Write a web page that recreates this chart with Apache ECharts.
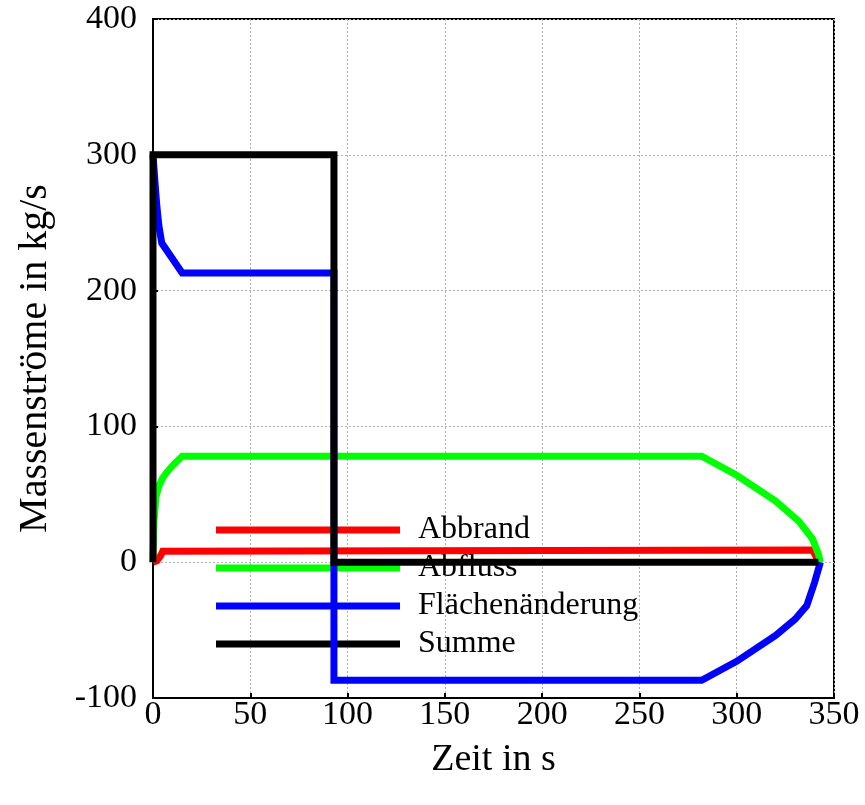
<!DOCTYPE html>
<html>
<head>
<meta charset="utf-8">
<script src="https://cdn.jsdelivr.net/npm/echarts@6/dist/echarts.min.js"></script>
<style>html,body{margin:0;padding:0;background:#fff}#c{width:865px;height:805px}</style>
</head>
<body>
<div id="c"></div>
<script>
const seriesNames = ['Abbrand', 'Abfluss', 'Flächenänderung', 'Summe'];
const xTicks = [0, 50, 100, 150, 200, 250, 300, 350];
const yTicks = [-100, 0, 100, 200, 300, 400];

const abbrandT = [0, 2, 4, 5, 6, 339, 340.5, 342];
const abbrandV = [0, 1, 5, 8, 9, 9, 5, 0];

const abflussT = [0, 0.5, 1.5, 3, 5, 7, 10, 15, 282, 300, 320, 332, 339, 342, 343];
const abflussV = [0, 30, 48, 56, 62, 66, 71, 78, 78, 64, 45, 30, 17, 6, 0];

const flaecheT = [0, 1, 2, 3, 4.5, 15, 93, 93, 282, 300, 320, 330, 336, 340, 342, 343];
const flaecheV = [300, 280, 262, 248, 235, 213, 213, -87, -87, -73, -54, -42, -32, -15, -5, 0];

const summeT = [0, 0, 93, 93, 342];
const summeV = [0, 300, 300, 0, 0];

const colors = ['#ff0000', '#00ff00', '#0000ff', '#000000'];
const FONT = 'Liberation Serif';

function pairs(t, v) { return t.map((x, i) => [x, v[i]]); }
const dataSets = [pairs(abbrandT, abbrandV), pairs(abflussT, abflussV), pairs(flaecheT, flaecheV), pairs(summeT, summeV)];

const chart = echarts.init(document.getElementById('c'), null, {renderer: 'canvas'});
chart.setOption({
  animation: false,
  backgroundColor: '#fff',
  grid: {left: 153, right: 31, top: 19, bottom: 107, show: true, borderColor: '#000', borderWidth: 2, z: 0},
  legend: {
    z: 1,
    left: 211, top: 509,
    orient: 'vertical',
    icon: 'rect',
    itemWidth: 184, itemHeight: 7,
    itemGap: 6,
    data: seriesNames,
    textStyle: {fontFamily: FONT, fontSize: 32, color: '#000', lineHeight: 32, padding: [0, 0, 0, 13]}
  },
  xAxis: {
    type: 'value', min: 0, max: 350, interval: 50,
    name: 'Zeit in s', nameLocation: 'middle', nameGap: 43,
    nameTextStyle: {fontFamily: FONT, fontSize: 38, color: '#000'},
    axisLine: {show: true, onZero: false, lineStyle: {color: '#000', width: 2}},
    axisTick: {show: true, inside: true, length: 5, lineStyle: {color: '#000', width: 2}},
    axisLabel: {fontFamily: FONT, fontSize: 34, color: '#000', margin: 0, formatter: v => xTicks.includes(v) ? String(v) : ''},
    splitLine: {show: true, lineStyle: {color: '#b0b0b0', type: [2, 2], width: 1}}
  },
  yAxis: {
    type: 'value', min: -100, max: 400, interval: 100,
    name: 'Massenströme in kg/s', nameLocation: 'middle', nameGap: 98, nameRotate: 90,
    nameTextStyle: {fontFamily: FONT, fontSize: 40, color: '#000'},
    axisLine: {show: true, onZero: false, lineStyle: {color: '#000', width: 2}},
    axisTick: {show: true, inside: true, length: 5, lineStyle: {color: '#000', width: 2}},
    axisLabel: {fontFamily: FONT, fontSize: 34, color: '#000', margin: 16, formatter: v => yTicks.includes(v) ? String(v) : ''},
    splitLine: {show: true, lineStyle: {color: '#b0b0b0', type: [2, 2], width: 1}}
  },
  series: seriesNames.map((n, i) => ({
    name: n, type: 'line', z: 3,
    data: dataSets[i],
    showSymbol: false, symbol: 'none',
    color: colors[i],
    lineStyle: {color: colors[i], width: 7, join: 'miter'},
    itemStyle: {color: colors[i]}
  }))
});
</script>
</body>
</html>
